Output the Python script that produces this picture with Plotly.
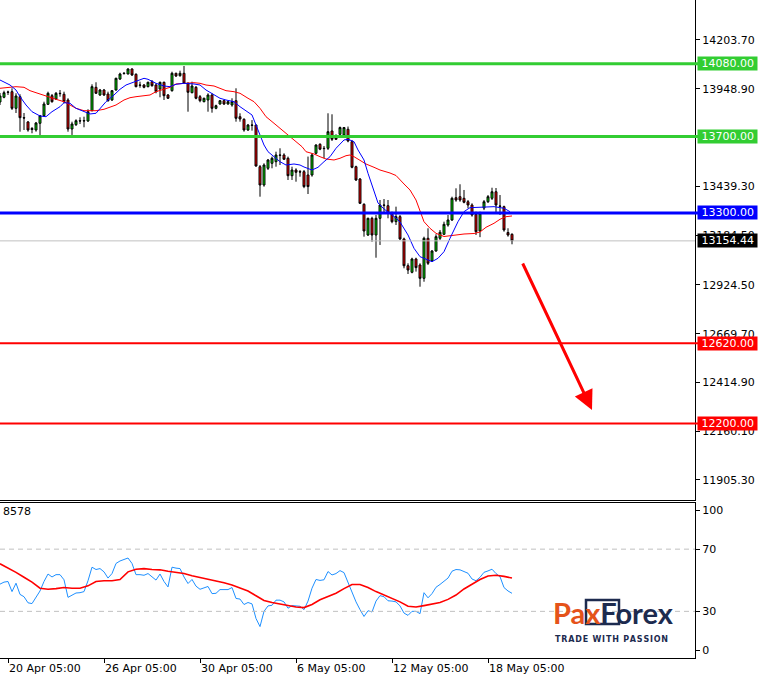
import plotly.graph_objects as go

# ---------------- data ----------------
bar_index = list(range(-2, 127))  # H4 bars, 0 = 20 Apr 05:00

opens = [13879.9, 13904.4, 13932.1, 13933.7, 13846.9, 13907.5, 13797.8, 13775.4, 13741.4, 13733.6,
         13768.6, 13808.3, 13867.8, 13912.8, 13895.5, 13925.3, 13920.1, 13890.3, 13738.8, 13761.3,
         13782.2, 13780.6, 13780.6, 13834.4, 13956.6, 13916.4, 13942.5, 13921.6, 13890.3, 13942.5,
         13999.9, 14029.7, 14026.1, 14052.2, 14024.5, 13968.6, 13968.6, 13959.8, 13985.9, 13968.6,
         13947.8, 13982.8, 13916.4, 13938.9, 14029.7, 14017.2, 14029.7, 13977.5, 13928.4, 13956.6,
         13907.5, 13881.4, 13890.3, 13916.4, 13846.9, 13869.4, 13886.6, 13869.4, 13864.2, 13886.6,
         13803.0, 13789.5, 13733.6, 13759.7, 13759.7, 13541.9, 13446.3, 13533.5, 13559.6, 13568.0,
         13603.0, 13603.0, 13585.8, 13494.8, 13524.6, 13515.8, 13515.8, 13498.5, 13498.5, 13611.9,
         13658.9, 13638.0, 13638.0, 13728.4, 13703.8, 13711.1, 13707.5, 13737.3, 13672.5, 13541.9,
         13477.6, 13345.4, 13185.1, 13272.3, 13185.1, 13272.3, 13341.8, 13338.1, 13298.6, 13254.7,
         13280.8, 13164.4, 13024.6, 12990.2, 13059.7, 13028.3, 12958.8, 13167.9, 13049.2, 13101.4,
         13167.9, 13188.7, 13237.3, 13263.6, 13379.9, 13385.1, 13376.8, 13358.9, 13341.8, 13293.2,
         13206.0, 13325.6, 13358.9, 13376.8, 13411.0, 13336.6, 13333.1, 13198.2, 13188.7]
highs = [13926.9, 13938.9, 13938.9, 13951.4, 13925.3, 13920.1, 13822.4, 13780.6, 13749.3, 13775.4,
         13812.0, 13881.4, 13933.7, 13921.6, 13932.1, 13942.5, 13933.7, 13899.2, 13777.0, 13789.5,
         13799.8, 13803.0, 13841.7, 13972.3, 13982.8, 13947.8, 13947.8, 13933.7, 13942.5, 14006.8,
         14032.8, 14036.5, 14055.9, 14055.9, 14029.7, 13985.9, 13973.9, 13985.9, 13994.7, 13977.5,
         13985.9, 13985.9, 13921.6, 14038.1, 14032.8, 14043.4, 14067.9, 13982.8, 13985.9, 13963.4,
         13916.4, 13902.3, 13925.3, 13925.3, 13865.7, 13890.3, 13890.3, 13886.6, 13899.2, 13951.4,
         13820.8, 13794.7, 13765.0, 13785.4, 13761.3, 13550.7, 13559.6, 13582.1, 13594.7, 13620.2,
         13638.0, 13611.9, 13594.7, 13541.9, 13533.5, 13524.6, 13524.6, 13594.7, 13611.9, 13658.9,
         13664.1, 13650.0, 13820.8, 13815.6, 13711.1, 13751.6, 13749.3, 13751.6, 13681.4, 13547.1,
         13482.8, 13350.6, 13275.4, 13280.6, 13289.5, 13367.9, 13373.1, 13367.9, 13307.0, 13333.1,
         13289.5, 13171.2, 13037.2, 13066.4, 13066.4, 13037.2, 13176.3, 13220.2, 13106.7, 13188.7,
         13211.3, 13254.7, 13289.5, 13385.1, 13429.0, 13450.0, 13420.2, 13367.9, 13350.6, 13307.0,
         13307.0, 13367.9, 13393.9, 13432.1, 13430.5, 13393.9, 13338.3, 13220.2, 13193.9]
lows = [13864.2, 13899.2, 13916.4, 13838.1, 13822.4, 13724.7, 13733.6, 13724.7, 13716.4, 13724.7,
        13703.8, 13803.0, 13864.2, 13876.2, 13890.3, 13907.5, 13873.1, 13724.7, 13707.5, 13754.5,
        13765.0, 13747.7, 13775.4, 13831.3, 13921.6, 13911.2, 13911.2, 13881.4, 13885.1, 13938.9,
        13994.7, 14024.5, 14024.5, 14015.7, 13956.6, 13954.5, 13951.4, 13956.6, 13959.8, 13925.3,
        13904.4, 13890.3, 13895.5, 13933.7, 14010.4, 14012.0, 13973.9, 13829.2, 13925.3, 13894.0,
        13878.3, 13878.3, 13829.2, 13824.0, 13841.7, 13865.7, 13864.2, 13865.7, 13855.3, 13777.0,
        13777.0, 13724.7, 13728.4, 13730.2, 13541.9, 13385.1, 13437.4, 13524.6, 13533.5, 13541.9,
        13550.7, 13576.9, 13472.4, 13472.4, 13463.5, 13489.6, 13429.7, 13399.2, 13489.6, 13606.6,
        13628.1, 13585.8, 13629.2, 13676.1, 13681.4, 13707.5, 13702.2, 13669.4, 13533.5, 13467.2,
        13346.9, 13176.3, 13179.9, 13150.0, 13066.4, 13132.9, 13294.8, 13272.3, 13246.4, 13237.3,
        13159.2, 13011.0, 12981.3, 12985.0, 12993.8, 12914.9, 12941.0, 13028.3, 13044.0, 13097.8,
        13159.2, 13185.1, 13228.5, 13258.4, 13358.9, 13358.9, 13350.6, 13324.5, 13280.8, 13185.1,
        13173.7, 13315.2, 13352.2, 13367.9, 13294.8, 13289.5, 13202.4, 13176.3, 13136.5]
closes = [13911.2, 13928.4, 13930.5, 13846.9, 13911.2, 13797.8, 13796.3, 13733.6, 13736.2, 13770.2,
          13808.3, 13869.4, 13925.3, 13881.4, 13925.3, 13923.7, 13881.4, 13738.8, 13765.0, 13782.2,
          13780.6, 13782.2, 13829.2, 13959.8, 13925.3, 13942.5, 13916.4, 13886.6, 13938.9, 14003.6,
          14026.1, 14028.1, 14052.2, 14020.9, 13959.8, 13967.1, 13956.6, 13982.8, 13965.0, 13933.7,
          13982.8, 13912.8, 13899.2, 14029.7, 14015.7, 14029.7, 13977.5, 13930.5, 13963.4, 13899.2,
          13886.6, 13899.2, 13916.4, 13846.9, 13860.5, 13886.6, 13869.4, 13881.4, 13881.4, 13794.7,
          13791.1, 13733.6, 13759.7, 13758.1, 13545.5, 13446.3, 13550.7, 13576.9, 13585.8, 13603.0,
          13601.4, 13580.6, 13494.8, 13524.6, 13512.6, 13514.2, 13438.0, 13438.0, 13603.0, 13655.2,
          13633.4, 13636.5, 13724.7, 13685.0, 13685.0, 13746.3, 13746.3, 13676.1, 13538.7, 13472.4,
          13350.6, 13206.0, 13272.3, 13185.1, 13272.3, 13341.8, 13340.2, 13298.6, 13254.7, 13280.8,
          13164.4, 13024.6, 13002.2, 13059.7, 13014.7, 12958.8, 13167.9, 13037.2, 13101.4, 13176.3,
          13199.3, 13240.8, 13263.6, 13376.8, 13367.9, 13367.9, 13355.9, 13341.8, 13289.5, 13202.4,
          13298.6, 13358.9, 13385.1, 13411.0, 13341.8, 13335.0, 13211.3, 13185.1, 13154.44]

# fast (blue) and slow (red) moving averages, read at points along the lines
ma_fast_x = [-2, 0.5, 2, 3, 4.5, 6, 8, 9.5, 11, 13, 14, 15.5, 17, 19, 20.5, 22, 23, 24.5, 26.5, 28,
             29.5, 31.5, 34, 35, 37, 39, 40.5, 42, 44, 46.5, 48, 49.5, 51.5, 53, 54.5, 56.5, 58, 60,
             61, 62, 63, 64, 65, 66.5, 68, 69.5, 71.5, 73, 74, 76, 77.5, 79, 80.5, 82, 84, 85, 86.5,
             87.5, 89, 90, 91.5, 92.5, 94, 95.5, 97, 98, 100, 101.5, 103, 105, 106, 107.5, 109, 110.5,
             112.5, 114, 115.5, 118, 121.5, 124, 125.5]
ma_fast = [13994.7, 13968.6, 13942.5, 13907.5, 13864.2, 13829.2, 13806.7, 13803.0, 13829.2, 13855.3,
           13876.2, 13873.1, 13846.9, 13829.2, 13817.2, 13820.8, 13846.9, 13881.4, 13916.4, 13946.2,
           13968.6, 13985.9, 14003.6, 13998.4, 13977.5, 13963.4, 13959.8, 13972.3, 13977.5, 13973.9,
           13968.6, 13942.5, 13916.4, 13899.2, 13890.3, 13881.4, 13855.3, 13824.0, 13812.0, 13759.7,
           13707.5, 13655.2, 13620.2, 13594.1, 13568.0, 13550.7, 13556.0, 13550.7, 13540.3, 13524.6,
           13538.7, 13568.0, 13594.1, 13638.0, 13681.4, 13685.0, 13672.5, 13629.2, 13576.9, 13507.4,
           13420.2, 13352.3, 13320.9, 13297.4, 13273.9, 13253.0, 13185.1, 13115.6, 13071.8, 13054.5,
           13045.6, 13063.4, 13097.9, 13167.9, 13254.7, 13306.9, 13327.9, 13330.0, 13333.1, 13324.7,
           13306.9]
ma_slow_x = [-2, 0.5, 2, 4, 5.5, 7, 9, 10.5, 12, 14, 15.5, 17, 19, 20.5, 22, 24, 25.5, 27, 29, 30.5,
             32, 34, 35.5, 37, 39, 40.5, 42, 44, 46.5, 48, 49.5, 51.5, 53, 54.5, 56.5, 58, 60, 61.5,
             63, 64.5, 66.5, 68, 70, 71.5, 73.5, 74.5, 76.5, 78, 79.5, 81.5, 83, 84.5, 85.5, 86.5, 88,
             89.5, 91.5, 93, 95.5, 97, 99, 100.5, 102, 103, 104, 105.5, 107, 109, 111.5, 114, 116.5,
             118, 119.5, 121.5, 123, 124.5, 126]
ma_slow = [13951.4, 13956.6, 13959.8, 13956.6, 13938.9, 13928.4, 13916.4, 13904.4, 13893.9, 13881.4,
           13864.2, 13846.9, 13834.4, 13834.4, 13834.4, 13841.7, 13852.2, 13864.2, 13890.3, 13902.3,
           13907.5, 13912.7, 13916.4, 13933.6, 13946.2, 13956.6, 13973.9, 13977.5, 13980.6, 13977.5,
           13968.6, 13963.4, 13951.4, 13938.9, 13933.6, 13925.3, 13899.2, 13881.4, 13846.9, 13803.0,
           13768.6, 13742.4, 13707.5, 13681.4, 13646.4, 13620.2, 13608.2, 13594.1, 13582.1, 13576.9,
           13585.8, 13599.3, 13603.0, 13594.1, 13576.9, 13556.0, 13538.7, 13524.6, 13508.9, 13495.9,
           13451.5, 13420.2, 13367.9, 13305.2, 13254.5, 13220.0, 13193.9, 13177.2, 13185.1, 13190.3,
           13192.9, 13200.8, 13225.3, 13246.2, 13267.1, 13280.7, 13284.4]

# RSI (blue) per bar and its moving average (red)
rsi = [47.5, 48.8, 49.2, 42.7, 48.1, 40.9, 39.4, 35.5, 35.0, 38.7, 43.1, 49.2,
       54.0, 52.1, 53.6, 53.6, 50.3, 39.0, 40.3, 41.8, 42.0, 42.7,
       49.7, 58.4, 56.9, 57.5, 55.4, 51.4, 54.3, 60.8, 62.4, 63.2,
       64.3, 60.8, 53.6, 53.6, 53.2, 54.3, 52.3, 50.1, 54.0, 49.2,
       45.7, 58.4, 57.8, 57.5, 52.1, 47.9, 50.5, 46.2, 44.2, 44.9,
       46.0, 41.4, 41.6, 44.0, 44.0, 44.0, 45.3, 38.3, 37.9, 34.4,
       35.7, 34.8, 25.4, 20.2, 30.0, 33.5, 33.9, 37.2, 37.2, 36.1,
       32.0, 33.7, 33.5, 33.3, 31.1, 36.6, 44.9, 50.5, 49.9, 50.3,
       55.6, 53.4, 54.3, 56.2, 54.9, 48.6, 41.6, 36.1, 31.1, 26.7,
       30.4, 29.6, 36.6, 40.1, 39.4, 36.8, 36.6, 36.1, 33.5, 28.9,
       27.4, 30.0, 30.0, 28.5, 42.0, 38.7, 41.4, 45.5, 47.3, 49.2,
       51.4, 55.8, 56.9, 56.7, 55.8, 54.5, 50.8, 49.7, 51.9, 55.1,
       56.0, 57.1, 54.3, 52.3, 45.3, 43.1, 41.6]
rsi_ma_x = [-2] + list(range(0, 127, 2))
rsi_ma = [60.6, 58.0, 55.1, 51.9, 48.8, 44.9, 44.2, 44.6, 45.3, 44.9, 44.9, 46.4, 49.2, 49.7, 49.7,
          50.5, 55.4, 57.1, 57.5, 56.9, 56.7, 55.8, 55.1, 54.3, 52.9, 51.9, 50.8, 49.4, 48.4, 47.0,
          44.9, 43.1, 40.0, 37.0, 35.7, 34.6, 33.7, 32.8, 32.4, 34.4, 37.4, 39.6, 41.6, 44.6, 47.3,
          47.3, 45.3, 42.7, 40.5, 38.7, 36.1, 33.3, 32.8, 33.7, 34.6, 35.7, 37.7, 40.5, 44.4, 47.7,
          50.5, 52.7, 53.2, 52.5, 51.4]

# horizontal levels
levels = [14080.00, 13700.00, 13300.00, 12620.00, 12200.00]
level_colors = ['#32CD32', '#32CD32', '#0000FF', '#FF0000', '#FF0000']
level_widths = [3, 3, 3, 2, 2]
last_price = 13154.44

# axis ticks (13694.10 is fully hidden behind the 13700.00 label in the reference)
price_ticks = [14203.70, 13948.90, 13439.30, 13184.50, 12924.50, 12669.70, 12414.90, 12160.10, 11905.30]
price_tick_text = ['14203.70', '13948.90', '13439.30', '13184.50', '12924.50', '12669.70',
                   '12414.90', '12160.10', '11905.30']
time_ticks = [0, 24, 48, 72, 96, 120]
time_tick_text = ['20 Apr 05:00', '26 Apr 05:00', '30 Apr 05:00', '6 May 05:00', '12 May 05:00', '18 May 05:00']
rsi_tick_pos = [5, 30, 70, 95]
rsi_tick_text = ['0', '30', '70', '100']

# forecast arrow (start / end in bar index & price)
arrow_from = (128.5, 13044.0)
arrow_to = (146.0, 12271.0)

# ---------------- layout geometry ----------------
W, H = 764, 679
PR = 695          # right edge of plot area (px)
PB = 658          # bottom edge of plot area (px)


def py(p):
    return (PB - p) / PB


def pxx(p):
    return p / PR


FONT = 'DejaVu Sans'

fig = go.Figure()

fig.add_trace(go.Candlestick(
    x=bar_index, open=opens, high=highs, low=lows, close=closes,
    increasing=dict(fillcolor='#00E000', line=dict(color='black', width=1)),
    decreasing=dict(fillcolor='#FF0000', line=dict(color='black', width=1)),
    whiskerwidth=0, hoverinfo='skip', showlegend=False, xaxis='x', yaxis='y'))

fig.add_trace(go.Scatter(x=ma_slow_x, y=ma_slow, mode='lines', line=dict(color='#FF0000', width=1),
                         hoverinfo='skip', showlegend=False, xaxis='x', yaxis='y'))
fig.add_trace(go.Scatter(x=ma_fast_x, y=ma_fast, mode='lines', line=dict(color='#0000FF', width=1),
                         hoverinfo='skip', showlegend=False, xaxis='x', yaxis='y'))

fig.add_trace(go.Scatter(x=bar_index, y=rsi, mode='lines', line=dict(color='#1E90FF', width=1),
                         hoverinfo='skip', showlegend=False, xaxis='x2', yaxis='y2'))
fig.add_trace(go.Scatter(x=rsi_ma_x, y=rsi_ma, mode='lines', line=dict(color='#FF0000', width=1.6),
                         hoverinfo='skip', showlegend=False, xaxis='x2', yaxis='y2'))

shapes = []
# current price line
shapes.append(dict(type='line', xref='paper', x0=0, x1=1.0, yref='y', y0=last_price, y1=last_price,
                   line=dict(color='#C0C0C0', width=1)))
for v, c, w in zip(levels, level_colors, level_widths):
    shapes.append(dict(type='line', xref='paper', x0=0, x1=1.01, yref='y', y0=v, y1=v,
                       line=dict(color=c, width=w)))
for v in (70, 30):
    shapes.append(dict(type='line', xref='paper', x0=0, x1=1, yref='y2', y0=v, y1=v,
                       line=dict(color='#C0C0C0', width=1, dash='5px,4px')))
# logo frame around "xF"
shapes.append(dict(type='rect', xref='paper', yref='paper', x0=pxx(586), x1=pxx(619), y0=py(624), y1=py(600),
                   line=dict(color='#1D2B4F', width=2.5)))

annotations = []
for v, c in zip(levels, level_colors):
    annotations.append(dict(xref='paper', x=1, xanchor='left', xshift=2, yref='y', y=v, yanchor='middle',
                            text=' %.2f ' % v, showarrow=False, bgcolor=c, borderpad=0,
                            font=dict(family=FONT, size=11, color='white')))
annotations.append(dict(xref='paper', x=1, xanchor='left', xshift=2, yref='y', y=last_price, yanchor='middle',
                        text=' %.2f ' % last_price, showarrow=False, bgcolor='black', borderpad=0,
                        font=dict(family=FONT, size=11, color='white')))
annotations.append(dict(xref='paper', x=0, xanchor='left', xshift=1, yref='paper', y=py(511), yanchor='middle',
                        text='8578', showarrow=False, font=dict(family=FONT, size=11, color='black')))
# arrow
annotations.append(dict(x=arrow_to[0], y=arrow_to[1], ax=arrow_from[0], ay=arrow_from[1],
                        xref='x', yref='y', axref='x', ayref='y', text='', showarrow=True,
                        arrowhead=2, arrowsize=1.3, arrowwidth=3, arrowcolor='#FF0000'))
# logo
annotations.append(dict(xref='paper', x=pxx(551), xanchor='left', yref='paper', y=py(612), yanchor='middle',
                        text="<b><span style='color:#E5531A'>Pax</span><span style='color:#1D2B4F'>Forex</span></b>",
                        showarrow=False, font=dict(family='Lato', size=29)))
tag = '\u200a'.join('TRADE WITH PASSION')
annotations.append(dict(xref='paper', x=pxx(553), xanchor='left', yref='paper', y=py(639), yanchor='middle',
                        text='<b>' + tag + '</b>', showarrow=False,
                        font=dict(family=FONT, size=8, color='#1D2B4F')))

main_bottom = (PB - 500) / PB
rsi_top = (PB - 502.5) / PB
xr = [-2, (PR - 8) / 4.0]

fig.update_layout(
    width=W, height=H, autosize=False,
    margin=dict(l=0, r=W - PR, t=0, b=H - PB, pad=0),
    paper_bgcolor='white', plot_bgcolor='white',
    showlegend=False, dragmode=False,
    xaxis=dict(domain=[0, 1], range=xr, anchor='y', showticklabels=False, ticks='', showgrid=False,
               zeroline=False, showline=True, linecolor='black', linewidth=1,
               rangeslider=dict(visible=False), fixedrange=True),
    yaxis=dict(domain=[main_bottom, 1], range=[11800.8, 14412.6], side='right', anchor='x',
               tickvals=price_ticks, ticktext=price_tick_text, ticks='outside', ticklen=4,
               tickcolor='black', showline=True, linecolor='black', linewidth=1, showgrid=False,
               zeroline=False, tickfont=dict(family=FONT, size=11, color='black'), fixedrange=True),
    xaxis2=dict(domain=[0, 1], range=xr, anchor='y2', tickvals=time_ticks, ticktext=time_tick_text,
                ticks='outside', ticklen=4, tickcolor='black', ticklabelposition='outside right',
                showline=True, mirror=True, linecolor='black', linewidth=1, showgrid=False,
                zeroline=False, tickfont=dict(family=FONT, size=11, color='black'), fixedrange=True),
    yaxis2=dict(domain=[0, rsi_top], range=[0, 100], side='right', anchor='x2',
                tickvals=rsi_tick_pos, ticktext=rsi_tick_text, ticks='outside', ticklen=4,
                tickcolor='black', showline=True, linecolor='black', linewidth=1, showgrid=False,
                zeroline=False, tickfont=dict(family=FONT, size=11, color='black'), fixedrange=True),
    shapes=shapes, annotations=annotations,
)

fig.write_html("out.html", config={'displayModeBar': False, 'staticPlot': True},
               post_script="document.body.style.margin='0';")
